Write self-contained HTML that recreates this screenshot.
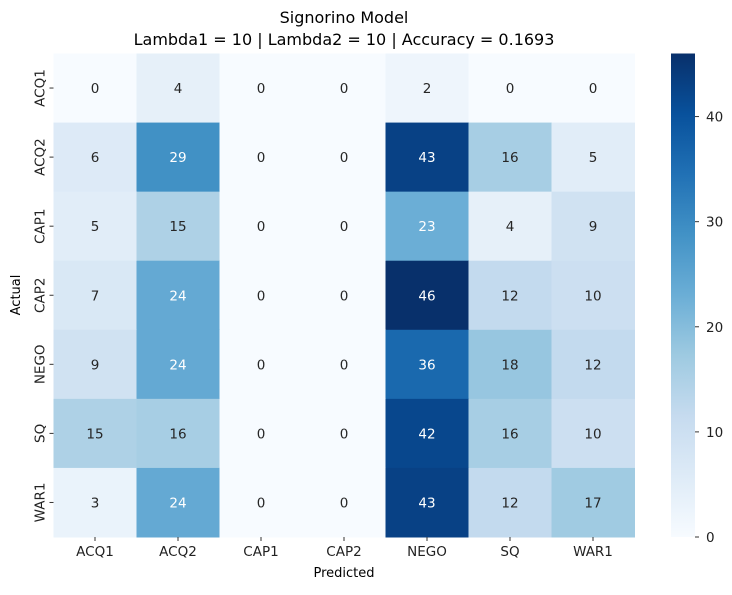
<!DOCTYPE html>
<html><head><meta charset="utf-8"><style>
body{margin:0;background:#fff;}
svg text{font-family:"DejaVu Sans","Liberation Sans",sans-serif;}
</style></head><body>
<svg id="chart" width="732" height="590" xmlns="http://www.w3.org/2000/svg">
<defs><linearGradient id="cb" x1="0" y1="1" x2="0" y2="0">
<stop offset="0" stop-color="#f7fbff"/><stop offset="0.125" stop-color="#deebf7"/><stop offset="0.25" stop-color="#c6dbef"/><stop offset="0.375" stop-color="#9ecae1"/><stop offset="0.5" stop-color="#6baed6"/><stop offset="0.625" stop-color="#4292c6"/><stop offset="0.75" stop-color="#2171b5"/><stop offset="0.875" stop-color="#08519c"/><stop offset="1" stop-color="#08306b"/>
</linearGradient></defs>
<text x="344" y="23" text-anchor="middle" font-size="16">Signorino Model</text>
<text x="344" y="45" text-anchor="middle" font-size="16">Lambda1 = 10 | Lambda2 = 10 | Accuracy = 0.1693</text>
<text x="344" y="577" text-anchor="middle" font-size="13">Predicted</text>
<text x="0" y="0" transform="translate(20,295) rotate(-90)" text-anchor="middle" font-size="13">Actual</text>
<g id="cells"></g>
<rect x="671" y="53.5" width="24" height="483.5" fill="url(#cb)"/>
<g id="cbticks"></g>
</svg>
<script>
const labels = ["ACQ1","ACQ2","CAP1","CAP2","NEGO","SQ","WAR1"];
const row0 = [0,4,0,0,2,0,0];
const row1 = [6,29,0,0,43,16,5];
const row2 = [5,15,0,0,23,4,9];
const row3 = [7,24,0,0,46,12,10];
const row4 = [9,24,0,0,36,18,12];
const row5 = [15,16,0,0,42,16,10];
const row6 = [3,24,0,0,43,12,17];
const matrix = [row0,row1,row2,row3,row4,row5,row6];
const cbTicks = [0,10,20,30,40];
const vmax = 46;

const NS="http://www.w3.org/2000/svg";
const L=53.5,T=53.5,W=581,H=483.5;
const cw=W/labels.length, ch=H/labels.length;
const stops=[[247,251,255],[222,235,247],[198,219,239],[158,202,225],[107,174,214],[66,146,198],[33,113,181],[8,81,156],[8,48,107]];
function color(v){let t=Math.max(0,Math.min(1,v/vmax))*8;let i=Math.min(7,Math.floor(t)),f=t-i;
 const a=stops[i],b=stops[i+1];return `rgb(${a.map((c,k)=>Math.round(c+(b[k]-c)*f)).join(',')})`;}
function mk(tag,attrs,parent){const e=document.createElementNS(NS,tag);for(const k in attrs)e.setAttribute(k,attrs[k]);parent.appendChild(e);return e;}
const g=document.getElementById('cells');
const svg=document.getElementById('chart');
matrix.forEach((row,r)=>{row.forEach((v,c)=>{
 const rect=mk('rect',{x:L+c*cw,y:T+r*ch,width:cw+0.5,height:ch+0.5,fill:color(v)},g);
 
 
 const t=mk('text',{x:L+(c+0.5)*cw,y:T+(r+0.5)*ch+5,'text-anchor':'middle','font-size':13.5,fill:v>=19?'#fff':'#262626'},g);
 t.textContent=v;
 
 
});});
labels.forEach((lab,i)=>{
 const x=L+(i+0.5)*cw;
 mk('line',{x1:x,x2:x,y1:T+H,y2:T+H+4,stroke:'#333'},svg);
 const t=mk('text',{x:x,y:T+H+19,'text-anchor':'middle','font-size':13.5,fill:'#222'},svg);
 t.textContent=lab;
 
 
 const y=T+(i+0.5)*ch;
 mk('line',{x1:L-4,x2:L,y1:y,y2:y,stroke:'#333'},svg);
 const t2=mk('text',{x:0,y:0,transform:`translate(${L-9},${y}) rotate(-90)`,'text-anchor':'middle','font-size':13.5,fill:'#222'},svg);
 t2.textContent=lab;
 
 
});
const cg=document.getElementById('cbticks');
cbTicks.forEach(v=>{
 const y=537-v*(483.5/vmax);
 mk('line',{x1:695,x2:699,y1:y,y2:y,stroke:'#333'},cg);
 const t=mk('text',{x:706,y:y+5,'font-size':13.5,fill:'#222'},cg);
 t.textContent=v;
 
 
});
</script>
</body></html>
